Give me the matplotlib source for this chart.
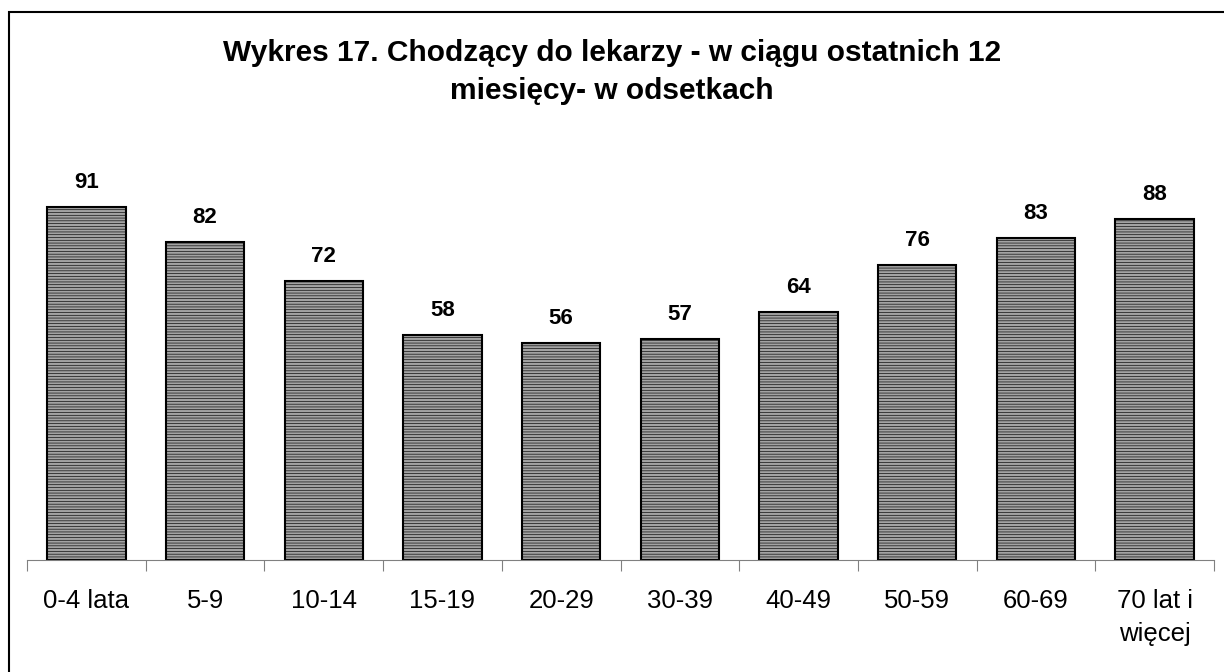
import matplotlib
matplotlib.use("Agg")
import matplotlib.pyplot as plt
import numpy as np
from matplotlib.patches import Rectangle

plt.rcParams['font.family'] = ['Liberation Sans', 'DejaVu Sans']
plt.rcParams['hatch.color'] = '#858585'
plt.rcParams['hatch.linewidth'] = 0.45

categories = ["0-4 lata", "5-9", "10-14", "15-19", "20-29", "30-39",
              "40-49", "50-59", "60-69", "70 lat i\nwięcej"]
values = [91, 82, 72, 58, 56, 57, 64, 76, 83, 88]
title = "Wykres 17. Chodzący do lekarzy - w ciągu ostatnich 12\nmiesięcy- w odsetkach"

W, H = 1224, 672
fig = plt.figure(figsize=(W / 100, H / 100), dpi=100)

# frame round the whole chart
fig.patches.append(Rectangle((9 / W, -0.05), 1.2, 1 - 12 / H + 0.05,
                             transform=fig.transFigure, fill=False,
                             edgecolor='black', linewidth=1.5))

ax = fig.add_axes([27 / W, 1 - 560 / H, (1214 - 27) / W, 388 / H])
x = np.arange(len(categories))
ax.bar(x, values, width=0.66, facecolor='#a3a3a3', edgecolor='black',
       linewidth=1.5, hatch='------')
for xi, v in zip(x, values):
    ax.text(xi, v + 3.6, str(v), ha='center', va='bottom',
            fontsize=16, fontweight='bold')

ax.set_xlim(-0.5, len(categories) - 0.5)
ax.set_ylim(0, 100)
for s in ['top', 'right', 'left']:
    ax.spines[s].set_visible(False)
ax.spines['bottom'].set_color('#808080')
ax.set_yticks([])
ax.set_xticks(np.arange(-0.5, len(categories)), minor=False)
ax.set_xticklabels([])
ax.tick_params(axis='x', which='major', direction='out', length=8,
               color='#808080')
ax.set_xticks(x, minor=True)
ax.set_xticklabels(categories, minor=True, fontsize=18.5, va='top',
                   linespacing=1.45)
ax.tick_params(axis='x', which='minor', length=0, pad=21)

fig.text(0.5, 1 - 72 / H, title, ha='center', va='center', fontsize=21.5,
         fontweight='bold', linespacing=1.45)

fig.savefig("out.png", dpi=100)
